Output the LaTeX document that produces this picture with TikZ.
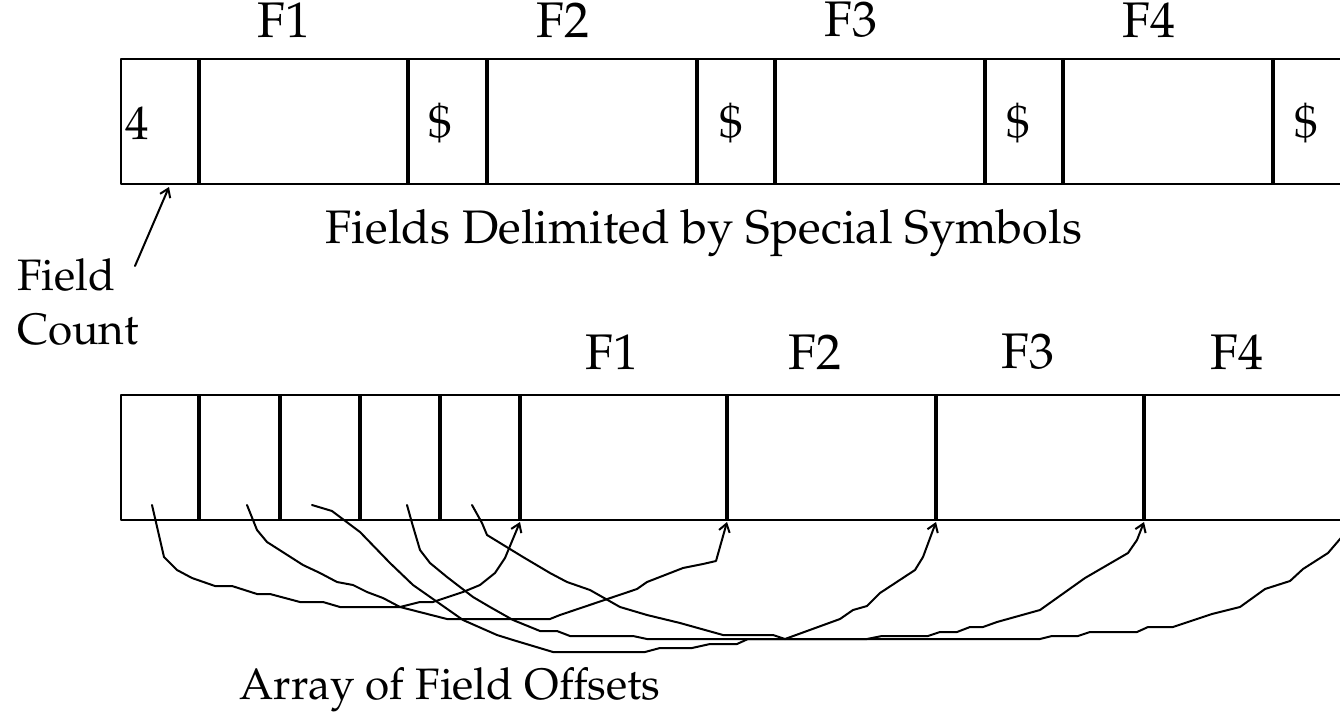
\documentclass[tikz,border=0pt]{standalone}
\usepackage[T1]{fontenc}
\usepackage{mathpazo}
\usetikzlibrary{arrows.meta}
\begin{document}
\begin{tikzpicture}[x=1pt,y=-1pt,line join=round,line cap=round,
  frame/.style={draw,line width=2pt},
  divider/.style={line width=4.5pt,line cap=butt},
  lbl/.style={font=\fontsize{47}{52}\selectfont,inner sep=0pt},
  flbl/.style={font=\fontsize{50}{55}\selectfont,inner sep=0pt},
  slbl/.style={font=\fontsize{44}{50}\selectfont,inner sep=0pt},
  link/.style={line width=2pt,-{Straight Barb[length=8pt,width=11pt,line width=2pt]}},
  wire/.style={line width=2pt}]
\useasboundingbox (0,0) rectangle (1340,717);
\clip (0,0) rectangle (1340,717);
% ---------- top record ----------
\draw[frame] (1355,59) -- (121,59) -- (121,184) -- (1355,184);
\foreach \x in {199,408,487,697,775,985,1063,1273}
  \draw[divider] (\x,59) -- (\x,184);
\node[flbl] (t1) at (284,20) {F1};
\node[flbl] (t2) at (563,20) {F2};
\node[flbl] (t3) at (851,20) {F3};
\node[flbl] (t4) at (1149,20) {F4};
\node[lbl,anchor=west] (four) at (125,123) {4};
\node[lbl] (d1) at (440,123) {\$};
\node[lbl] (d2) at (731,123) {\$};
\node[lbl] (d3) at (1018,123) {\$};
\node[lbl] (d4) at (1306,123) {\$};
\node[lbl] (cap1) at (704,233) {Fields Delimited by Special Symbols};
\node[slbl,anchor=west] (fc1) at (17,275) {Field};
\node[slbl,anchor=west] (fc2) at (17,330) {Count};
\coordinate (fcs) at (135,266);
\coordinate (fct) at (169,187);
\draw[link] (fcs) -- (fct);
% ---------- bottom record ----------
\draw[frame] (1355,395) -- (121,395) -- (121,520) -- (1355,520);
\foreach \x in {199,280,360,440,520,727,936,1144}
  \draw[divider] (\x,395) -- (\x,520);
\node[flbl] (b1) at (612,352) {F1};
\node[flbl] (b2) at (815,352) {F2};
\node[flbl] (b3) at (1028,352) {F3};
\node[flbl] (b4) at (1237,352) {F4};
\node[slbl] (cap2) at (450,690) {Array of Field Offsets};
% offsets
\coordinate (o1) at (152,505); \coordinate (e1) at (520,522);
\coordinate (o2) at (247,505); \coordinate (e2) at (727,522);
\coordinate (o3) at (312,505); \coordinate (e3) at (936,522);
\coordinate (o4) at (407,505); \coordinate (e4) at (1144,522);
\coordinate (o5) at (472,505); \coordinate (e5) at (1352,525);
\draw[link] (o1) -- (164,557) -- (177,570) -- (192,578) -- (215,586) -- (232,586) -- (257,594) -- (270,594) -- (300,602) -- (323,602) -- (340,607) -- (400,607) -- (420,602) -- (433,602) -- (463,592) -- (480,585) -- (495,573) -- (505,558) -- (e1);
\draw[link] (o2) -- (257,530) -- (267,542) -- (303,565) -- (320,573) -- (337,582) -- (353,585) -- (367,592) -- (383,598) -- (400,607) -- (447,619) -- (550,619) -- (560,615) -- (637,589) -- (647,582) -- (683,568) -- (703,564) -- (716,561) -- (e2);
\draw[link] (o3) -- (332,511) -- (360,532) -- (390,563) -- (413,585) -- (463,620) -- (497,635) -- (513,640) -- (553,652) -- (645,652) -- (660,648) -- (692,648) -- (710,644) -- (737,644) -- (748,639) -- (785,639) -- (840,619) -- (853,610) -- (867,606) -- (880,593) -- (915,570) -- (923,557) -- (e3);
\draw[link] (o4) -- (412,523) -- (420,550) -- (430,563) -- (447,577) -- (460,587) -- (473,597) -- (490,607) -- (513,620) -- (540,631) -- (557,631) -- (570,636) -- (633,636) -- (647,639) -- (867,639) -- (882,636) -- (928,636) -- (940,632) -- (957,632) -- (970,627) -- (983,627) -- (997,622) -- (1040,610) -- (1085,578) -- (1128,553) -- (1137,540) -- (e4);
\draw[wire] (o5) -- (482,523) -- (487,535) -- (523,557) -- (550,573) -- (567,582) -- (590,590) -- (620,607) -- (647,615) -- (680,623) -- (723,635) -- (773,635) -- (785,639) -- (1040,639) -- (1052,636) -- (1078,636) -- (1090,632) -- (1137,632) -- (1148,627) -- (1173,627) -- (1212,614) -- (1240,607) -- (1265,589) -- (1290,581) -- (1303,569) -- (1328,553) -- (e5);
\end{tikzpicture}
\end{document}
